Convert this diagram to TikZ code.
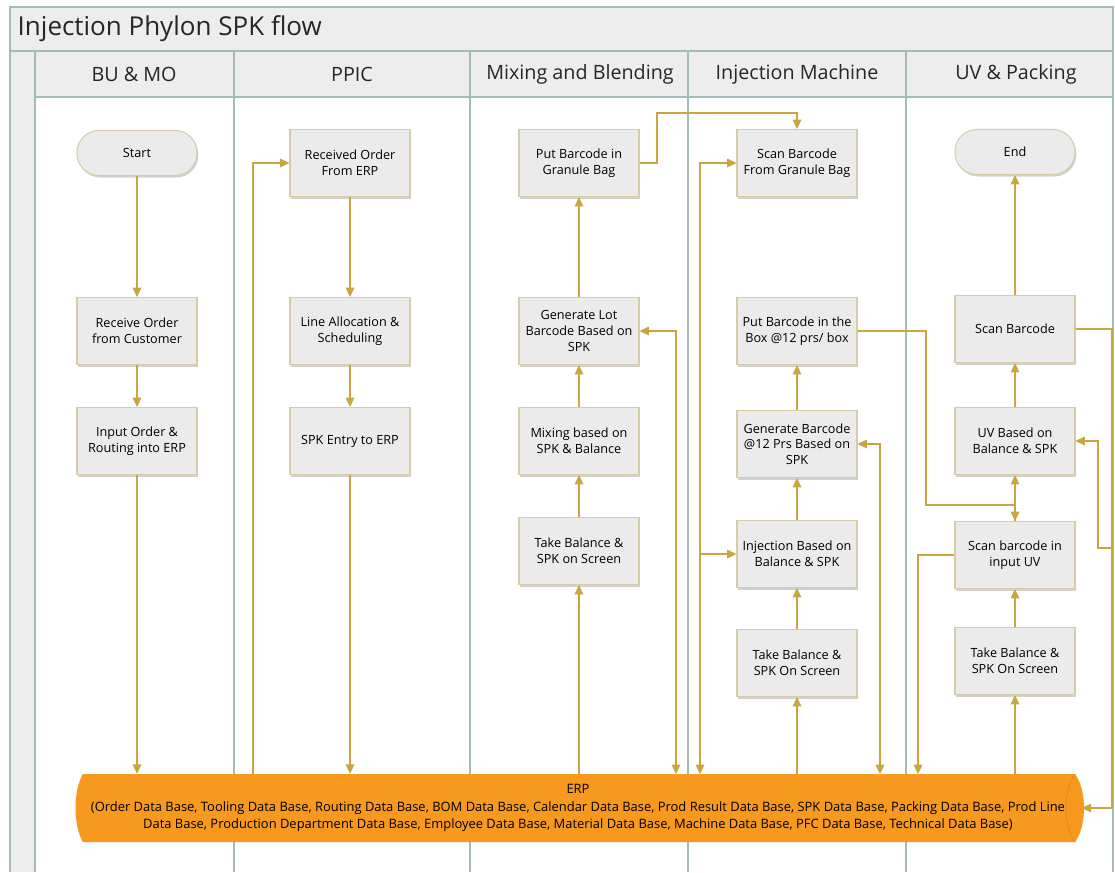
\documentclass[tikz,border=0pt]{standalone}
\usepackage{fontspec}
\setmainfont{Open Sans}
\usetikzlibrary{arrows.meta,shadows}
\definecolor{lanefill}{HTML}{EDEDED}
\definecolor{laneline}{HTML}{A3BCB6}
\definecolor{boxfill}{HTML}{EBEBEB}
\definecolor{boxborder}{HTML}{D6CDA8}
\definecolor{conn}{HTML}{C9A63F}
\definecolor{erporange}{HTML}{F6991E}
\definecolor{erpedge}{HTML}{E08A15}
\begin{document}
\begin{tikzpicture}[x=0.75pt,y=-0.75pt,
  proc/.style={draw=boxborder, fill=boxfill, line width=0.8pt, minimum width=90pt, minimum height=50.25pt,
    align=center, inner sep=2pt, font=\fontsize{9.5}{11.7}\selectfont,
    drop shadow={shadow xshift=1pt, shadow yshift=-1.5pt, opacity=0.18, fill=black}},
  term/.style={proc, rounded corners=16.5pt, minimum height=33.75pt},
  lanehead/.style={font=\fontsize{14.8}{17}\selectfont, text=black!85},
  conn/.style={draw=conn, line width=0.9pt, -{Triangle[length=7pt,width=6.5pt]}},
  connboth/.style={draw=conn, line width=0.9pt, {Triangle[length=7pt,width=6.5pt]}-{Triangle[length=7pt,width=6.5pt]}},
  plain/.style={draw=conn, line width=0.9pt},
  lane/.style={draw=laneline, line width=1.1pt}]
\useasboundingbox (0,0) rectangle (1115,872);
% pool background
\fill[white] (0,0) rectangle (1115,872);
\fill[lanefill] (10,7) rectangle (1113,51);
\fill[lanefill] (10,51) rectangle (35,872);
\fill[lanefill] (35,51) rectangle (1113,97);
\draw[lane] (10,872) -- (10,7) -- (1113,7) -- (1113,872);
\draw[lane] (10,51) -- (1113,51);
\draw[lane] (35,97) -- (1113,97);
\foreach \x in {35,234,470,688,906} \draw[lane] (\x,51) -- (\x,872);
\node[anchor=west, font=\fontsize{19.5}{22}\selectfont, text=black!85] (title) at (13,29) {Injection Phylon SPK flow};
\node[lanehead] (h1) at (134,74) {BU \& MO};
\node[lanehead] (h2) at (352,74) {PPIC};
\node[lanehead] (h3) at (580,74) {Mixing and Blending};
\node[lanehead] (h4) at (797,74) {Injection Machine};
\node[lanehead] (h5) at (1016,74) {UV \& Packing};
% ERP cylinder
\fill[erporange] (83,774) -- (1075,774) .. controls (1087,790) and (1087,826) .. (1075,842) -- (83,842) .. controls (73,826) and (73,790) .. (83,774) -- cycle;
\draw[erpedge, line width=0.5pt] (1075,774) .. controls (1063,790) and (1063,826) .. (1075,842);
\node[minimum width=755.25pt, minimum height=51pt, inner sep=0pt, align=center,
  font=\fontsize{9.7}{13.1}\selectfont] (erp) at (578,808)
  {ERP\\(Order Data Base, Tooling Data Base, Routing Data Base, BOM Data Base, Calendar Data Base, Prod Result Data Base, SPK Data Base, Packing Data Base, Prod Line\\Data Base, Production Department Data Base, Employee Data Base, Material Data Base, Machine Data Base, PFC Data Base, Technical Data Base)};
% BU & MO
\node[term] (start) at (137,153) {Start};
\node[proc] (recv) at (137,331) {Receive Order\\from Customer};
\node[proc] (inp) at (137,441) {Input Order \&\\Routing into ERP};
% PPIC
\node[proc] (rcvd) at (350,163) {Received Order\\From ERP};
\node[proc] (alloc) at (350,331) {Line Allocation \&\\Scheduling};
\node[proc] (spk) at (350,441) {SPK Entry to ERP};
% Mixing
\node[proc] (put) at (579,163) {Put Barcode in\\Granule Bag};
\node[proc] (gen) at (579,331) {Generate Lot\\Barcode Based on\\SPK};
\node[proc] (mix) at (579,441) {Mixing based on\\SPK \& Balance};
\node[proc] (tb1) at (579,551) {Take Balance \&\\SPK on Screen};
% Injection
\node[proc] (scan) at (797,163) {Scan Barcode\\From Granule Bag};
\node[proc] (putbox) at (797,331) {Put Barcode in the\\Box @12 prs/ box};
\node[proc] (genb) at (797,444) {Generate Barcode\\@12 Prs Based on\\SPK};
\node[proc] (inj) at (797,554) {Injection Based on\\Balance \& SPK};
\node[proc] (tb2) at (797,663) {Take Balance \&\\SPK On Screen};
% UV
\node[term] (end) at (1015,152) {End};
\node[proc] (scanbc) at (1015,329) {Scan Barcode};
\node[proc] (uv) at (1015,441) {UV Based on\\Balance \& SPK};
\node[proc] (scanin) at (1015,555) {Scan barcode in\\input UV};
\node[proc] (tb3) at (1015,661) {Take Balance \&\\SPK On Screen};
% helper coordinates
\coordinate (eA) at (253,774);
\coordinate (eC) at (676,774);
\coordinate (eD) at (700,774);
\coordinate (eF) at (880,774);
\coordinate (eG) at (918,774);
\coordinate (pb1) at (657,113);
\coordinate (c1) at (926,505);
\coordinate (c2) at (1112,808);
\coordinate (c3) at (1112,548);
\coordinate (c4) at (1098,548);
% connectors BU & MO
\draw[conn] (start) -- (recv);
\draw[conn] (recv) -- (inp);
\draw[conn] (inp) -- (inp |- erp.north);
% PPIC
\draw[conn] (eA) |- (rcvd.west);
\draw[conn] (rcvd) -- (alloc);
\draw[conn] (alloc) -- (spk);
\draw[conn] (spk) -- (spk |- erp.north);
% Mixing
\draw[conn] (tb1 |- erp.north) -- (tb1);
\draw[conn] (tb1) -- (mix);
\draw[conn] (mix) -- (gen);
\draw[conn] (gen) -- (put);
\draw[conn] (put.east) -| (pb1) -| (scan.north);
\draw[connboth] (gen.east) -| (eC);
% Injection
\draw[connboth] (scan.west) -| (eD);
\draw[conn] (inj.west -| eD) -- (inj.west);
\draw[conn] (tb2 |- erp.north) -- (tb2);
\draw[conn] (tb2) -- (inj);
\draw[conn] (inj) -- (genb);
\draw[conn] (genb) -- (putbox);
\draw[connboth] (genb.east) -| (eF);
\draw[conn] (putbox.east) -| (c1) -| (scanin.north);
% UV
\draw[conn] (tb3 |- erp.north) -- (tb3);
\draw[conn] (tb3) -- (scanin);
\draw[conn] (scanin) -- (uv);
\draw[conn] (uv) -- (scanbc);
\draw[conn] (scanbc) -- (end);
\draw[conn] (scanin.west) -| (eG);
\draw[plain] (scanbc.east) -| (c2);
\draw[conn] (c2) -- (erp.east);
\draw[conn] (c3) -- (c4) |- (uv.east);
\end{tikzpicture}
\end{document}
